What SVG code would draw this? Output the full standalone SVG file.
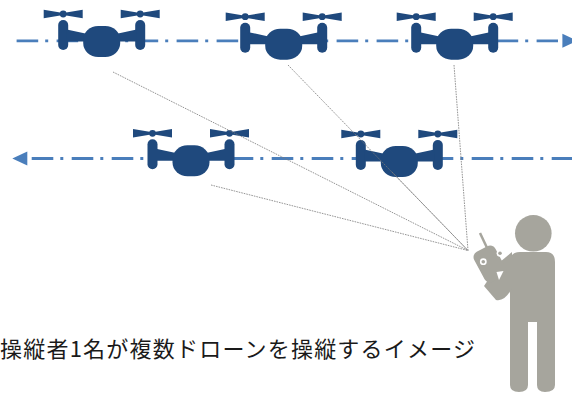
<svg xmlns="http://www.w3.org/2000/svg" xmlns:xlink="http://www.w3.org/1999/xlink" width="572" height="393" viewBox="0 0 572 393">
  <style>
    .drone { fill: #1f497d; }
    .path { stroke: #4a7ebb; stroke-width: 2.8; fill: none; stroke-dasharray: 21.6 7 3 8.4; }
    .sight { stroke: #7a7a7a; stroke-width: 0.8; fill: none; stroke-dasharray: 1.6 1; }
    .pilot { fill: #a6a59d; }
    .label { font-family: "Noto Sans CJK JP", "Noto Sans", sans-serif; font-size: 22px; fill: #1a1a1a; }
  </style>
  <defs>
    <!-- drone icon, origin midway between the two rotor hubs -->
    <g id="drone-icon" class="drone">
      <path d="M-58,-4.2 L-38.5,-1 L-19,-4.2 L-19,4.2 L-38.5,1 L-58,4.2 Z"/>
      <path d="M19,-4.2 L38.5,-1 L58,-4.2 L58,4.2 L38.5,1 L19,4.2 Z"/>
      <circle cx="-38.5" cy="0" r="3.4"/>
      <circle cx="38.5" cy="0" r="3.4"/>
      <rect x="-43.5" y="6" width="10" height="30" rx="5"/>
      <rect x="33.5" y="6" width="10" height="30" rx="5"/>
      <path d="M-35,15.5 L-14,20 L-14,27.5 L-35,27.5 Z"/>
      <path d="M35,15.5 L14,20 L14,27.5 L35,27.5 Z"/>
      <rect x="-18.5" y="12" width="37" height="31" rx="15" ry="14"/>
    </g>
    <marker id="arrow" markerUnits="userSpaceOnUse" markerWidth="20" markerHeight="16" refX="0" refY="0" orient="auto-start-reverse" overflow="visible">
      <path d="M4.4,-7 L19.4,0 L4.4,7 Z" fill="#4a7ebb"/>
    </marker>
  </defs>

  <!-- flight paths -->
  <g id="connectors">
    <line class="path" x1="16.6" y1="40.8" x2="558" y2="40.8" marker-end="url(#arrow)"/>
    <line class="path" x1="31.7" y1="158.5" x2="572" y2="158.5" marker-start="url(#arrow)"/>
  </g>

  <!-- drones -->
  <g id="drone-1"><use xlink:href="#drone-icon" x="101.7" y="14"/></g>
  <g id="drone-2"><use xlink:href="#drone-icon" x="283.7" y="16.7"/></g>
  <g id="drone-3"><use xlink:href="#drone-icon" x="454.7" y="16.7"/></g>
  <g id="drone-4"><use xlink:href="#drone-icon" x="191" y="133.3"/></g>
  <g id="drone-5"><use xlink:href="#drone-icon" x="399.3" y="134"/></g>

  <!-- lines of sight from the pilot's controller -->
  <g id="sight-lines">
    <line class="sight" x1="113" y1="72" x2="468" y2="250.5"/>
    <line class="sight" x1="288" y1="65" x2="468" y2="250.5"/>
    <line class="sight" x1="454" y1="65" x2="468" y2="250.5"/>
    <line class="sight" x1="211" y1="185" x2="468" y2="250.5"/>
    <line class="sight" x1="392" y1="172" x2="468" y2="250.5"/>
  </g>

  <!-- pilot holding a controller -->
  <g id="pilot" class="pilot">
    <circle cx="533.3" cy="233.3" r="18.3"/>
    <path d="M510,262 Q510,252 520,252 L546,252 Q555,252 555,262 L555,385 Q555,392 545,392 Q537,392 537,385 L537,322 L528,322 L528,385 Q528,392 519,392 Q510,392 510,385 Z"/>
    <path d="M512,252 L512,288 Q505,302 496,300 L484,286 L500,262 Z"/>
    <line x1="480" y1="233" x2="489" y2="252" stroke="#a6a59d" stroke-width="2.5"/>
    <rect x="478" y="247" width="24" height="34" rx="6" transform="rotate(-28 490 264)"/>
    <circle cx="483.3" cy="261.7" r="3.4" fill="#ffffff"/>
    <circle cx="483.3" cy="261.7" r="1.8"/>
    <circle cx="500" cy="253.3" r="3.4" fill="#ffffff"/>
    <circle cx="500" cy="253.3" r="1.8"/>
    <path d="M496.5,272 L503.5,271 L499,280 Z" fill="#ffffff"/>
  </g>

  <text class="label" x="0" y="357" textLength="475" lengthAdjust="spacing">操縦者1名が複数ドローンを操縦するイメージ</text>
</svg>
